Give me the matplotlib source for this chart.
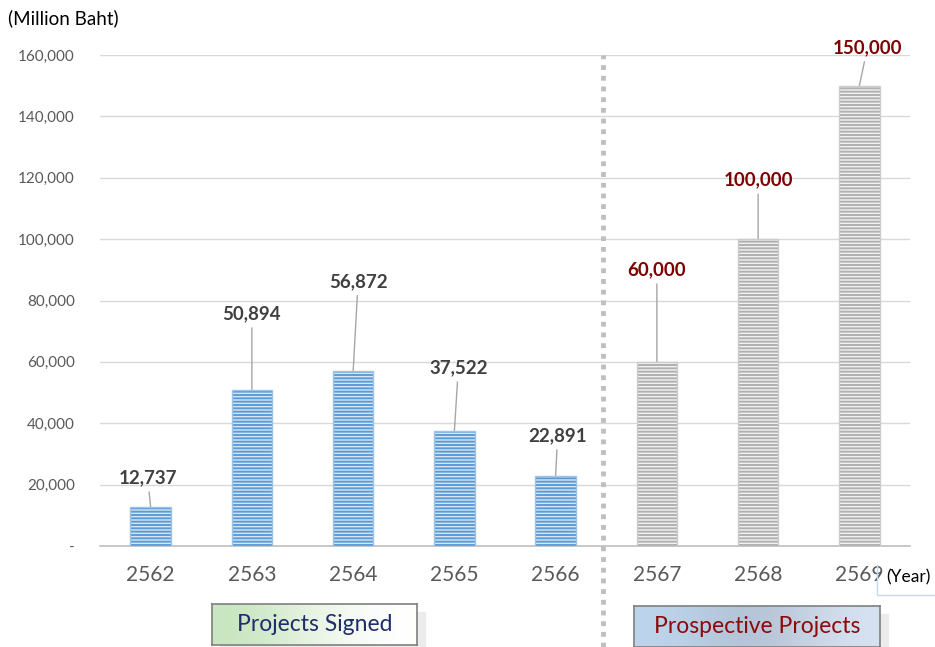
import numpy as np
import matplotlib.pyplot as plt
from matplotlib.patches import Rectangle

plt.rcParams['font.family'] = ['Lato', 'DejaVu Sans']
plt.rcParams['hatch.linewidth'] = 1.4

years = ['2562', '2563', '2564', '2565', '2566', '2567', '2568', '2569']
values = [12737, 50894, 56872, 37522, 22891, 60000, 100000, 150000]
signed = [True, True, True, True, True, False, False, False]
yticks = [0, 20000, 40000, 60000, 80000, 100000, 120000, 140000, 160000]
ytick_labels = ['-', '20,000', '40,000', '60,000', '80,000', '100,000',
                '120,000', '140,000', '160,000']
# label offsets in pixels (dx, dy) from bar top
offsets = [(-3, 29), (0, 76), (5, 90), (4, 63), (2, 40), (0, 92), (0, 59), (8, 38)]

fig = plt.figure(figsize=(9.35, 6.47), dpi=100)
ax = fig.add_axes([100/935, 101/647, 810/935, 491/647])

x = np.arange(len(years))
for i in range(len(years)):
    if signed[i]:
        fc, hc, ec = '#d6e6f6', '#5b9bd5', '#9dc3e6'
    else:
        fc, hc, ec = '#f2f2f2', '#b0b0b0', '#cccccc'
    ax.bar(x[i], values[i], width=0.4, color=fc, edgecolor=hc,
           hatch='-----', linewidth=0, zorder=3)
    ax.bar(x[i], values[i], width=0.4, fill=False, edgecolor=ec,
           linewidth=1, zorder=4)

for i in range(len(years)):
    col = '#404040' if signed[i] else '#7f0000'
    ax.annotate(f'{values[i]:,}', xy=(x[i], values[i]),
                xytext=offsets[i], textcoords='offset pixels',
                ha='center', va='center', fontsize=13.5, fontweight='bold',
                color=col,
                arrowprops=dict(arrowstyle='-', color='#a6a6a6', lw=1,
                                shrinkA=2, shrinkB=0))

ax.set_xlim(-0.5, 7.5)
ax.set_ylim(0, 160000)
ax.set_yticks(yticks)
ax.set_yticklabels(ytick_labels, fontsize=11, color='#595959')
ax.set_xticks(x)
ax.set_xticklabels(years, fontsize=15, color='#595959')
ax.tick_params(axis='both', length=0)
ax.tick_params(axis='x', pad=14)
ax.tick_params(axis='y', pad=18)
ax.grid(axis='y', color='#d9d9d9', linewidth=1, zorder=0)
for s in ['top', 'right', 'left']:
    ax.spines[s].set_visible(False)
ax.spines['bottom'].set_color('#bfbfbf')
ax.spines['bottom'].set_linewidth(1.2)

# separator between signed and prospective
fig.add_artist(plt.Line2D([603/935, 603/935], [0, 1 - 55/647], color='#bfbfbf',
                          linestyle=(0, (1, 1.2)), linewidth=3.5))

fig.text(8/935, 1 - 18/647, '(Million Baht)', fontsize=13.5, va='center',
         ha='left', color='black')
fig.text(886/935, 1 - 577/647, '(Year)', fontsize=12.5, va='center',
         ha='left', color='black')
fig.add_artist(plt.Line2D([877/935, 877/935, 935/935],
                          [1 - 565/647, 1 - 595/647, 1 - 595/647],
                          color='#c5d9f1', linewidth=1))


def gradient_box(x0, y0, w, h, colors, text, tcol):
    # shadow
    fig.add_artist(Rectangle(((x0 + 8)/935, 1 - (y0 + h + 2)/647), w/935, (h - 6)/647,
                             transform=fig.transFigure, color='#ececec', zorder=1))
    bax = fig.add_axes([x0/935, 1 - (y0 + h)/647, w/935, h/647], zorder=2)
    grad = np.array(colors)[None, :, :]
    bax.imshow(grad, aspect='auto', interpolation='bicubic', extent=(0, 1, 0, 1))
    bax.set_xticks([])
    bax.set_yticks([])
    for s in bax.spines.values():
        s.set_color('#7f7f7f')
        s.set_linewidth(1.2)
    bax.text(0.5, 0.5, text, ha='center', va='center', fontsize=16.5,
             color=tcol, transform=bax.transAxes)


gradient_box(212, 604, 205, 41,
             [[0.78, 0.9, 0.75], [0.92, 0.96, 0.9], [1, 1, 1]],
             'Projects Signed', '#1f2d6b')
gradient_box(634, 606, 246, 41,
             [[0.74, 0.84, 0.93], [0.68, 0.73, 0.8], [0.84, 0.89, 0.95]],
             'Prospective Projects', '#8b0a0a')

fig.savefig('out.png', dpi=100)
